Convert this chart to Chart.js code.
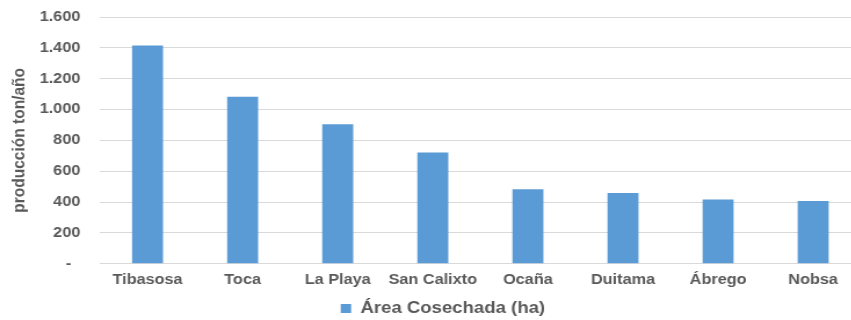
<!DOCTYPE html>
<html>
<head>
<meta charset="utf-8">
<script src="https://cdn.jsdelivr.net/npm/chart.js@4/dist/chart.umd.min.js"></script>
<style>
  html, body { margin: 0; padding: 0; background: #fff; overflow: hidden; width: 851px; height: 320px; }
  /* the chart is drawn narrow and widened horizontally for its broad lettering */
  #wrap { width: 742px; height: 320px; transform: scaleX(1.16); transform-origin: 0 0; }
</style>
</head>
<body>
<div id="wrap"><canvas id="chart"></canvas></div>
<script>
// Production by municipality
const municipios = ['Tibasosa', 'Toca', 'La Playa', 'San Calixto', 'Ocaña', 'Duitama', 'Ábrego', 'Nobsa'];
const areaCosechada = [1415, 1083, 904, 722, 483, 459, 416, 407];
const yTicks = [0, 200, 400, 600, 800, 1000, 1200, 1400, 1600];
const serieNombre = 'Área Cosechada (ha)';
const ejeYTitulo = 'producción ton/año';

const textColor = '#595959';
const gridColor = '#d9d9d9';
const barColor = '#5b9bd5';
const fontFamily = "'Liberation Sans', Arial, Helvetica, sans-serif";

// accounting style: zero shown as a dash, dots as thousands separators
function formatMiles(v) {
  if (v === 0) return '-  ';
  return String(v).replace(/\B(?=(\d{3})+(?!\d))/g, '.');
}

new Chart(document.getElementById('chart'), {
  type: 'bar',
  data: {
    labels: municipios,
    datasets: [{
      label: serieNombre,
      data: areaCosechada,
      backgroundColor: barColor,
      borderWidth: 0,
      barPercentage: 0.326,
      categoryPercentage: 1
    }]
  },
  options: {
    responsive: true,
    maintainAspectRatio: false,
    animation: false,
    layout: { padding: { top: 17, left: 21.6, right: 0, bottom: -6.5 } },
    plugins: {
      tooltip: { enabled: false },
      legend: {
        position: 'bottom',
        labels: {
          color: textColor,
          font: { family: fontFamily, size: 16, weight: 'bold' },
          boxWidth: 9,
          boxHeight: 9,
          padding: 4
        }
      }
    },
    scales: {
      x: {
        grid: { display: false, drawTicks: false },
        border: { display: true, color: gridColor, width: 1 },
        ticks: {
          color: textColor,
          font: { family: fontFamily, size: 14, weight: 'bold' },
          padding: 8,
          maxRotation: 0,
          autoSkip: false
        }
      },
      y: {
        min: 0,
        max: 1600,
        afterBuildTicks: (scale) => { scale.ticks = yTicks.map(v => ({ value: v })); },
        afterFit: (scale) => { scale.width = 64.6; },
        // invisible tick marks keep the labels clear of the plot area
        grid: { color: gridColor, lineWidth: 1, drawTicks: true, tickLength: 17, tickColor: 'rgba(0,0,0,0)' },
        border: { display: false },
        ticks: {
          color: textColor,
          font: { family: fontFamily, size: 14, weight: 'bold' },
          padding: 0,
          callback: (v) => formatMiles(v)
        },
        title: {
          display: true,
          text: ejeYTitulo,
          color: textColor,
          font: { family: fontFamily, size: 15.5, weight: 'bold' },
          padding: { top: -13.7, bottom: 0 }
        }
      }
    }
  }
});
</script>
</body>
</html>
